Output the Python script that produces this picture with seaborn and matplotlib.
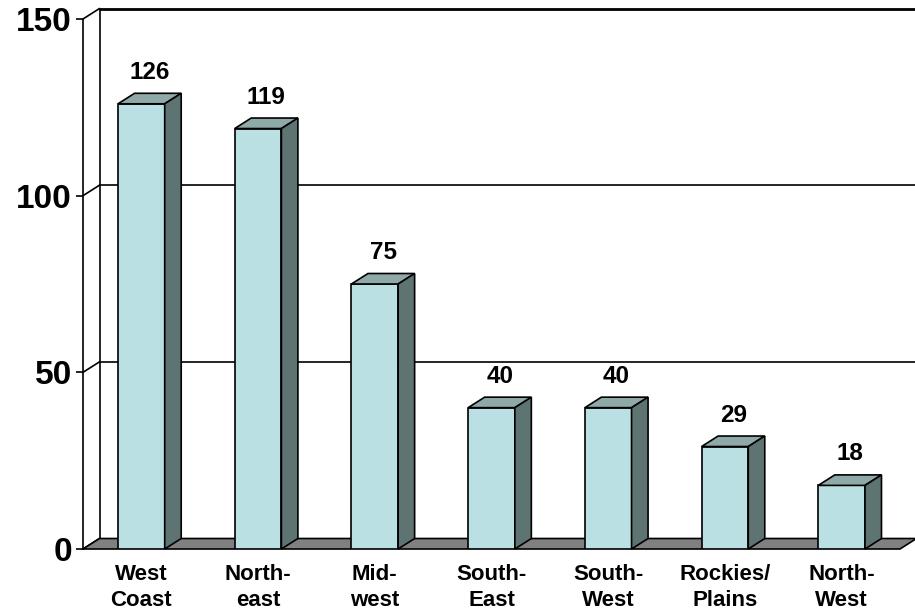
import numpy as np
import matplotlib
matplotlib.use("Agg")
import matplotlib.pyplot as plt
import matplotlib.transforms as mtransforms
from matplotlib.patches import Polygon
import seaborn as sns

# =========================
# DATA
# =========================
regions = ["West\nCoast", "North-\neast", "Mid-\nwest", "South-\nEast",
           "South-\nWest", "Rockies/\nPlains", "North-\nWest"]
counts = [126, 119, 75, 40, 40, 29, 18]
y_ticks = [0, 50, 100, 150]

# colours of the 3d faces
front_col = "#BAE0E3"
top_col = "#8FA9A9"
side_col = "#5E7473"
floor_col = "#808080"

sns.set_style("white")
plt.rcParams["font.family"] = ["Liberation Sans", "DejaVu Sans"]
plt.rcParams["text.color"] = "black"
plt.rcParams["xtick.color"] = "black"
plt.rcParams["ytick.color"] = "black"

fig = plt.figure(figsize=(9.15, 6.13), dpi=100)
ax = fig.add_axes([83 / 915, 64 / 613, 817 / 915, 530 / 613])

sns.barplot(x=regions, y=counts, order=regions, color=front_col, width=0.4,
            edgecolor="black", linewidth=1.2, saturation=1, ax=ax, zorder=3)

ax.set_xlim(-0.5, len(regions) - 0.5)
ax.set_ylim(0, 150)
ax.set_yticks(y_ticks)
ax.set_xlabel("")
ax.set_ylabel("")

# depth offset of the fake 3d, in pixels
DX, DY = 16.5, 10.5
ident = mtransforms.IdentityTransform()


def disp(x, y, d=0.0):
    px, py = ax.transData.transform((x, y))
    return (px + d * DX, py + d * DY)


x_left, x_right = ax.get_xlim()

# back wall + left wall lines
for yv in y_ticks:
    p0 = disp(x_left, yv)
    p1 = disp(x_left, yv, 1)
    ax.add_line(plt.Line2D([p0[0], p1[0]], [p0[1], p1[1]], color="black",
                           lw=1.2, transform=ident, clip_on=False, zorder=1))
    if yv > 0:
        ax.add_line(plt.Line2D([p1[0], fig.bbox.width], [p1[1], p1[1]],
                               color="black", lw=2 if yv == 150 else 1.2,
                               transform=ident, clip_on=False, zorder=1))
b0 = disp(x_left, 0, 1)
b1 = disp(x_left, 150, 1)
ax.add_line(plt.Line2D([b0[0], b1[0]], [b0[1], b1[1]], color="black", lw=1.2,
                       transform=ident, clip_on=False, zorder=1))

# floor
floor = Polygon([disp(x_left, 0), disp(x_right, 0), disp(x_right, 0, 1),
                 disp(x_left, 0, 1)], closed=True, facecolor=floor_col,
                edgecolor="black", lw=1.2, transform=ident, clip_on=False,
                zorder=2)
ax.add_patch(floor)

# top and side faces of each bar
for bar in list(ax.patches):
    if bar is floor:
        continue
    x0 = bar.get_x()
    x1 = x0 + bar.get_width()
    h = bar.get_height()
    top = Polygon([disp(x0, h), disp(x1, h), disp(x1, h, 1), disp(x0, h, 1)],
                  closed=True, facecolor=top_col, edgecolor="black", lw=1.2,
                  transform=ident, clip_on=False, zorder=3)
    side = Polygon([disp(x1, 0), disp(x1, h), disp(x1, h, 1), disp(x1, 0, 1)],
                   closed=True, facecolor=side_col, edgecolor="black", lw=1.2,
                   transform=ident, clip_on=False, zorder=3)
    ax.add_patch(top)
    ax.add_patch(side)

# value labels
lab_trans = ax.transData + mtransforms.ScaledTranslation(
    DX / 2 / 100, 25 / 100, fig.dpi_scale_trans)
for i, v in enumerate(counts):
    ax.text(i, v, str(v), transform=lab_trans, ha="center", va="baseline",
            fontsize=17.5, fontweight="bold", color="black", clip_on=False)

# axes styling
for s in ["top", "right", "bottom"]:
    ax.spines[s].set_visible(False)
ax.spines["left"].set_color("black")
ax.spines["left"].set_linewidth(1.2)
ax.spines["left"].set_zorder(1)
ax.tick_params(axis="y", length=5, width=1.2, pad=3, labelsize=24,
               left=True, color="black", labelcolor="black")
ax.tick_params(axis="x", length=0, pad=11, labelsize=16, labelcolor="black")
for t in ax.get_yticklabels():
    t.set_fontweight("bold")
for t in ax.get_xticklabels():
    t.set_fontweight("bold")
    t.set_linespacing(1.3)

ax.patch.set_alpha(0)
fig.savefig("out.png", dpi=100)
